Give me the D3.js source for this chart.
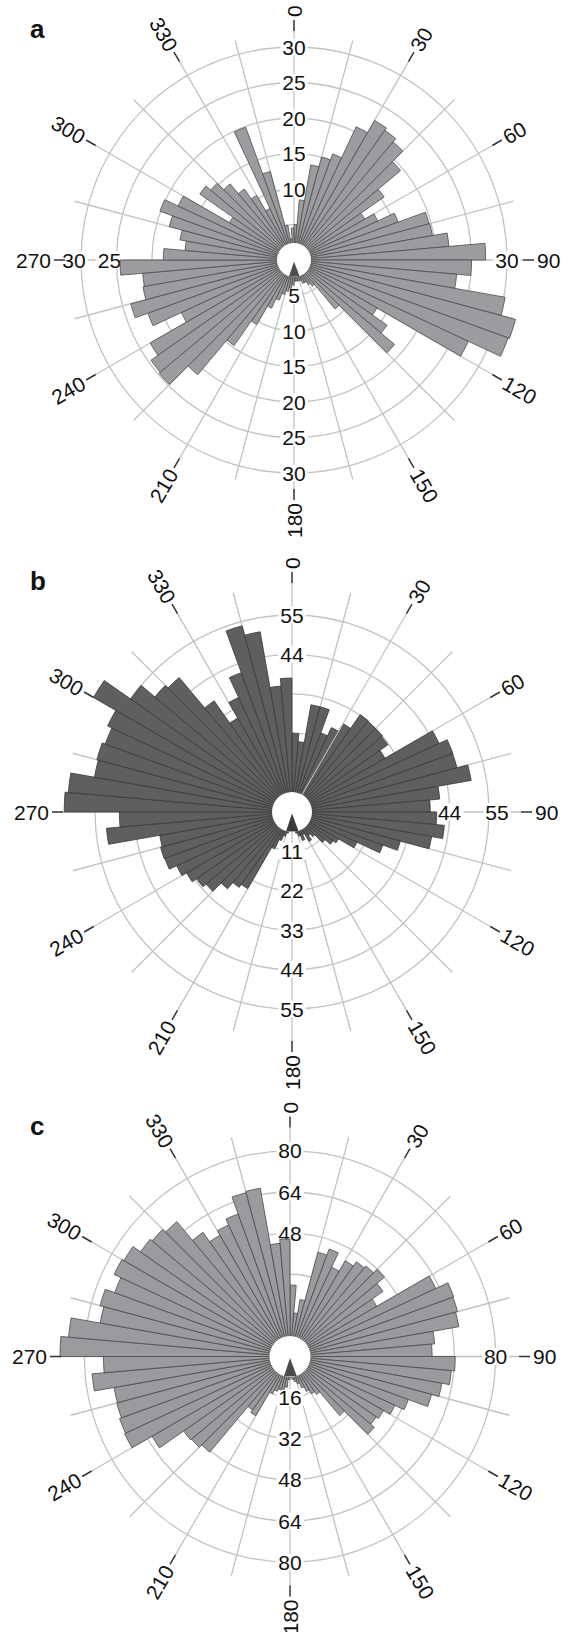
<!DOCTYPE html>
<html><head><meta charset="utf-8">
<script src="https://cdn.jsdelivr.net/npm/d3@7/dist/d3.min.js"></script>
<style>html,body{margin:0;padding:0;background:#fff}svg{display:block}</style>
</head><body>
<svg id="chart" width="570" height="1632"></svg>
<script>
// ---------- data ----------
const binStarts = d3.range(0, 360, 5);           // 72 bins of 5 degrees
const directionTicks = d3.range(0, 360, 30);     // labelled azimuths
const spokeAngles = d3.range(0, 360, 15);

// panel a (bins 0-5, 5-10, ... 355-360)
const valuesA = [
  5, 8.5, 13.6, 15, 15.9, 20.7, 22.7, 22.3, 21.7, 19.6, 15.5, 11.5, 13, 15.6, 19.7, 19.8, 21.9, 27,
  25, 23, 30.2, 32.3, 32.1, 27.1, 13.5, 16, 18.5, 9, 4.5, 4, 3.5, 3.5, 3, 3, 3, 3,
  3.5, 4, 4.5, 5, 6, 7.5, 10.5, 14.7, 21.1, 24.8, 24.6, 23.4, 17.5, 21.9, 23.8, 21.6, 21.4, 24.5,
  18.4, 15.4, 16.3, 18.2, 20.1, 18, 10.5, 16.2, 15.3, 14, 12.2, 10.5, 8, 19.9, 12.9, 5, 3, 4.5
];
// panel b
const valuesB = [
  22, 19.7, 30.4, 30.4, 23.5, 26, 28.5, 33.2, 33, 33, 32.7, 30, 45.3, 47.8, 47.7, 50.8, 41.4, 38.6,
  40.4, 42.7, 39.6, 31.3, 27, 20, 15, 14, 12, 9, 8, 9.5, 7, 8.5, 7, 6, 5, 5,
  5, 5, 6, 7, 8.5, 11.4, 24.7, 25.7, 28, 31.3, 32.5, 34, 35.5, 37.8, 38, 37.5, 52, 48.2,
  63.6, 62.7, 56, 56.4, 55.5, 56.8, 64, 55, 50, 49, 37.9, 30.3, 35.3, 41.4, 53.8, 51.1, 35.3, 37.4
];
// panel c
const valuesC = [
  27.8, 17, 22.5, 42, 44.5, 38.3, 43, 45, 46, 48, 44.2, 39, 62.6, 67.8, 67.5, 66.7, 56.5, 55.3,
  64.3, 63, 60, 57, 49, 45, 42, 41, 42.8, 30, 18, 16.7, 15, 13, 11, 10, 9, 8,
  9, 12, 13, 13.5, 14.4, 16, 26.6, 25.4, 48.6, 50, 50.5, 62, 71, 70.6, 69.8, 69.5, 77.3, 72.6,
  89.5, 86.5, 75, 76.5, 72.6, 75.5, 74.6, 71, 70, 68.5, 59, 54.5, 56.5, 59, 66, 66.5, 44.2, 45.7
];

const ringsA = [5, 10, 15, 20, 25, 30];
const ringsB = [11, 22, 33, 44, 55];
const ringsC = [16, 32, 48, 64, 80];

const topLabelsA = [10, 15, 20, 25, 30], bottomLabelsA = [5, 10, 15, 20, 25, 30], leftLabelsA = [25, 30], rightLabelsA = [30];
const topLabelsB = [44, 55], bottomLabelsB = [11, 22, 33, 44, 55], leftLabelsB = [], rightLabelsB = [44, 55];
const topLabelsC = [48, 64, 80], bottomLabelsC = [16, 32, 48, 64, 80], leftLabelsC = [], rightLabelsC = [80];

// ---------- layout / style ----------
const panels = [
  {letter: 'a', values: valuesA, rings: ringsA, cx: 294, cy: 260, rOuter: 213, hole: 17,
   fill: '#9b9ca0', stroke: '#4e4e4e', labels: {top: topLabelsA, bottom: bottomLabelsA, left: leftLabelsA, right: rightLabelsA},
   nudge: {left: 7, right: 0}, lightSpoke: false},
  {letter: 'b', values: valuesB, rings: ringsB, cx: 292, cy: 812, rOuter: 197, hole: 20,
   fill: '#5f5f60', stroke: '#3a3a3a', labels: {top: topLabelsB, bottom: bottomLabelsB, left: leftLabelsB, right: rightLabelsB},
   nudge: {left: 0, right: 0, right55: 8}, lightSpoke: true},
  {letter: 'c', values: valuesC, rings: ringsC, cx: 290, cy: 1356.5, rOuter: 205.6, hole: 20.5,
   fill: '#9a9b9f', stroke: '#4a4a4a', labels: {top: topLabelsC, bottom: bottomLabelsC, left: leftLabelsC, right: rightLabelsC},
   nudge: {left: 0, right: 0}, lightSpoke: false}
];

const GRID = '#c3c3c3';
const SPOKE_R = 227, TICK_IN = 229, TICK_OUT = 240, LABEL_R = 243;
const FONT = '"Liberation Sans", Arial, Helvetica, sans-serif';
const FS = 21;
const deg = Math.PI / 180;
const pol = (r, a) => [Math.sin(a * deg) * r, -Math.cos(a * deg) * r];

const svg = d3.select('#chart');
svg.append('rect').attr('width', 570).attr('height', 1632).attr('fill', '#fff');

panels.forEach(p => {
  const g = svg.append('g').attr('transform', `translate(${p.cx},${p.cy})`);
  const maxRing = d3.max(p.rings);
  const r = d3.scaleLinear().domain([0, maxRing]).range([0, p.rOuter]);

  // rings
  g.append('g').selectAll('circle').data(p.rings).join('circle')
    .attr('r', d => r(d)).attr('fill', 'none').attr('stroke', GRID).attr('stroke-width', 1.3);

  // spokes
  g.append('g').selectAll('line').data(spokeAngles).join('line')
    .attr('x1', 0).attr('y1', 0)
    .attr('x2', d => pol(d % 30 === 0 ? TICK_IN : SPOKE_R, d)[0])
    .attr('y2', d => pol(d % 30 === 0 ? TICK_IN : SPOKE_R, d)[1])
    .attr('stroke', GRID).attr('stroke-width', 1.3);

  // ring labels (with white background)
  const lab = [];
  p.labels.top.forEach(v => lab.push({v, x: 0, y: -r(v)}));
  p.labels.bottom.forEach(v => lab.push({v, x: 0, y: r(v)}));
  p.labels.left.forEach(v => lab.push({v, x: -r(v) - p.nudge.left, y: 0}));
  p.labels.right.forEach(v => lab.push({v, x: r(v) + (v === 55 && p.nudge.right55 ? p.nudge.right55 : p.nudge.right), y: 0}));
  const lg = g.append('g');
  lab.forEach(d => {
    const gg = lg.append('g');
    const t = gg.append('text').attr('x', d.x).attr('y', d.y).attr('dy', '0.36em')
      .attr('text-anchor', 'middle').attr('font-family', FONT).attr('font-size', FS).attr('fill', '#111')
      .text(d.v);
    const bb = t.node().getBBox();
    gg.insert('rect', 'text').attr('x', bb.x - 2).attr('y', d.y - 8.5).attr('width', bb.width + 4).attr('height', 17).attr('fill', '#fff');
  });

  // bars
  const arc = d3.arc().innerRadius(0).outerRadius(d => r(d.v))
    .startAngle(d => d.a * deg).endAngle(d => (d.a + 5) * deg);
  g.append('g').selectAll('path').data(p.values.map((v, i) => ({v, a: binStarts[i]}))).join('path')
    .attr('d', arc).attr('fill', p.fill).attr('stroke', p.stroke).attr('stroke-width', 0.8).attr('stroke-linejoin', 'miter');

  if (p.lightSpoke) {
    const e = pol(TICK_IN, 30), s = pol(p.hole, 30);
    g.append('line').attr('x1', s[0]).attr('y1', s[1]).attr('x2', e[0]).attr('y2', e[1])
      .attr('stroke', '#d4d4d4').attr('stroke-width', 1);
  }

  // central hole and wedge
  g.append('circle').attr('r', p.hole).attr('fill', '#fff');
  const w1 = pol(p.hole + 0.5, 161), w2 = pol(p.hole + 0.5, 197);
  g.append('path').attr('d', `M0,1.5L${w1[0]},${w1[1]}L${w2[0]},${w2[1]}Z`).attr('fill', p.stroke);

  // direction ticks + labels
  const tg = g.append('g');
  directionTicks.forEach(a => {
    const i = pol(TICK_IN, a), o = pol(TICK_OUT, a), l = pol(LABEL_R, a);
    tg.append('line').attr('x1', i[0]).attr('y1', i[1]).attr('x2', o[0]).attr('y2', o[1])
      .attr('stroke', '#333').attr('stroke-width', 1.5);
    const rot = a < 180 ? a - 90 : a - 270;
    tg.append('text').attr('transform', `translate(${l[0]},${l[1]}) rotate(${rot})`)
      .attr('dy', '0.36em').attr('text-anchor', a < 180 ? 'start' : 'end')
      .attr('font-family', FONT).attr('font-size', FS).attr('fill', '#111').text(a);
  });

  // panel letter
  svg.append('text').attr('x', 30).attr('y', p.cy - 222).attr('font-family', FONT)
    .attr('font-size', 26).attr('font-weight', 'bold').attr('fill', '#111').text(p.letter);
});
</script>
</body></html>
